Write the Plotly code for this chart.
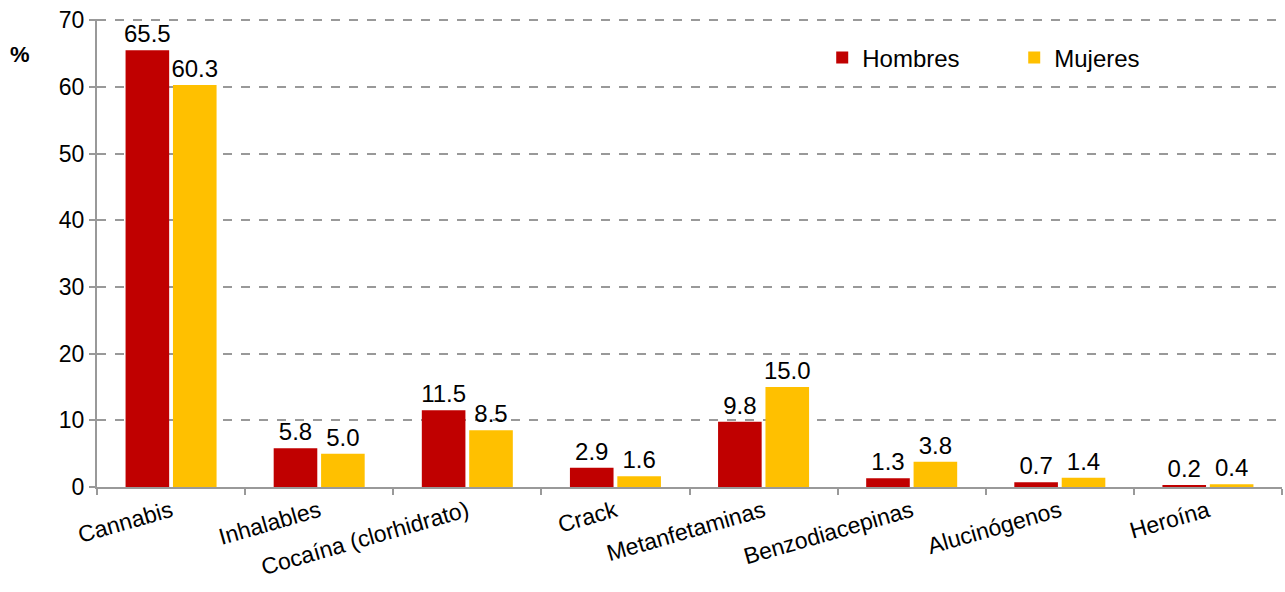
import plotly.graph_objects as go

categories = ["Cannabis", "Inhalables", "Cocaína (clorhidrato)", "Crack",
              "Metanfetaminas", "Benzodiacepinas", "Alucinógenos", "Heroína"]
hombres = [65.5, 5.8, 11.5, 2.9, 9.8, 1.3, 0.7, 0.2]
mujeres = [60.3, 5.0, 8.5, 1.6, 15.0, 3.8, 1.4, 0.4]
y_ticks = [0, 10, 20, 30, 40, 50, 60, 70]

font = "Liberation Sans, Arial, sans-serif"

fig = go.Figure()
for name, vals, col in [("Hombres", hombres, "#C00000"), ("Mujeres", mujeres, "#FFC000")]:
    fig.add_trace(go.Bar(x=categories, y=vals, name=name, marker_color=col,
                         marker_line_width=0,
                         texttemplate="%{y:.1f}", textposition="outside", cliponaxis=False,
                         constraintext="none",
                         textfont=dict(size=24, color="#000000", family=font)))

fig.update_layout(
    width=1285, height=592,
    margin=dict(l=97, r=3, t=19, b=105),
    paper_bgcolor="white", plot_bgcolor="white",
    font=dict(family=font, size=23, color="#000000"),
    barmode="group", bargap=0.36, bargroupgap=0.08,
    showlegend=True,
    legend=dict(orientation="h", x=0.612, xanchor="left", y=0.917, yanchor="middle",
                font=dict(size=24), itemwidth=30, entrywidth=147, entrywidthmode="pixels",
                bgcolor="rgba(0,0,0,0)"),
)
fig.update_xaxes(type="category", showline=True, linecolor="#999999", linewidth=2,
                 ticks="outside", tickson="boundaries", ticklen=6, tickcolor="#999999",
                 tickwidth=2, tickangle=-16, showgrid=False, automargin=False,
                 tickfont=dict(size=23, family=font))
fig.update_yaxes(range=[0, 70.2], tickvals=y_ticks, showline=True, linecolor="#999999",
                 linewidth=2, ticks="outside", ticklen=6, tickcolor="#999999", tickwidth=2,
                 showgrid=True, gridcolor="#999999", griddash="dash", gridwidth=1.5,
                 zeroline=False, automargin=False, tickfont=dict(size=23, family=font))
fig.add_annotation(text="<b>%</b>", xref="paper", yref="paper", x=-0.065, y=0.925,
                   showarrow=False, font=dict(size=22, family=font), xanchor="center",
                   yanchor="middle")
fig.write_html("out.html", config={"displayModeBar": False},
               post_script="document.body.style.margin='0';document.body.style.overflow='hidden';")
